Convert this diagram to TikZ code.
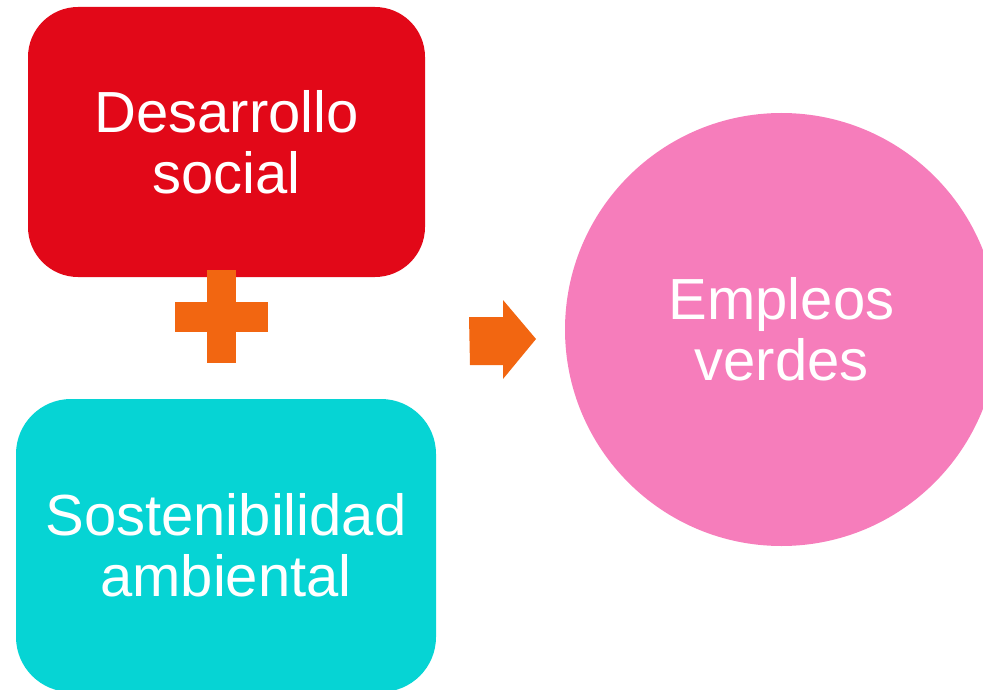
\documentclass[tikz,border=0pt]{standalone}
\usepackage{fontspec}
\setmainfont{Liberation Sans}
\usepackage{xcolor}
\usepackage{tikz}
\usetikzlibrary{calc}
\usetikzlibrary{backgrounds}

\definecolor{socialred}{HTML}{E20818}
\definecolor{plusorange}{HTML}{F26611}
\definecolor{ambcyan}{HTML}{06D4D4}
\definecolor{verdepink}{HTML}{F67DBB}

\tikzset{
  bigtext/.style={text=white,align=center,font=\fontsize{58}{61}\selectfont},
  roundbox/.style={bigtext,rectangle,inner sep=0pt}
}

\begin{document}
\begin{tikzpicture}[x=1pt,y=-1pt]

\useasboundingbox (0,0) rectangle (983,690);
\clip (0,0) rectangle (983,690);

\node[roundbox,fill=socialred,rounded corners=50pt,minimum width=397pt,minimum height=270pt] (desarrollo) at (226.5,142) {Desarrollo\\social};
\node[roundbox,fill=ambcyan,rounded corners=55pt,minimum width=420pt,minimum height=293pt] (sostenibilidad) at (226,545.5) {Sostenibilidad\\ambiental};
\node[bigtext,circle,fill=verdepink,minimum size=433pt,inner sep=0pt] (empleos) at (781.5,329.5) {Empleos\\verdes};

% plus sign
\fill[plusorange] (207,270) rectangle (236,363);
\fill[plusorange] (175,302) rectangle (268,332);

% block arrow
\fill[plusorange] (469,317) -- (503,317) -- (503,300) -- (536,339) -- (503,379) -- (503,365) -- (470,365) -- cycle;

\end{tikzpicture}
\end{document}
